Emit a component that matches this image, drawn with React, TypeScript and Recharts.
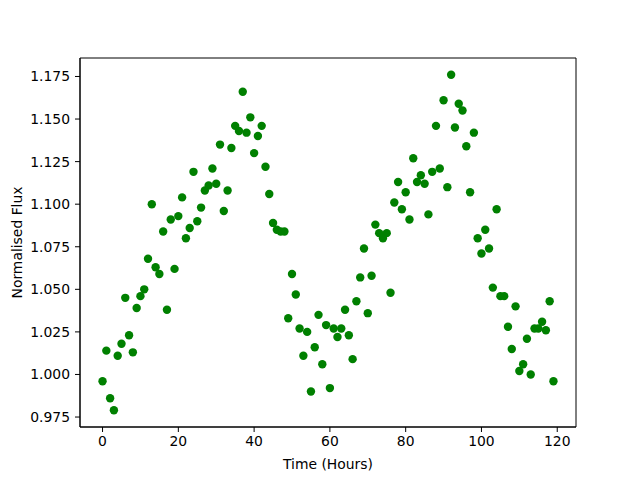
import React from "react";
import {
  ScatterChart,
  Scatter,
  XAxis,
  YAxis,
  ReferenceArea,
} from "recharts";

// time of each measurement, hours
const hours = [
  0, 1, 2, 3, 4, 5, 6, 7, 8, 9, 10, 11, 12, 13, 14, 15, 16, 17, 18, 19,
  20, 21, 22, 23, 24, 25, 26, 27, 28, 29, 30, 31, 32, 33, 34, 35, 36, 37, 38, 39,
  40, 41, 42, 43, 44, 45, 46, 47, 48, 49, 50, 51, 52, 53, 54, 55, 56, 57, 58, 59,
  60, 61, 62, 63, 64, 65, 66, 67, 68, 69, 70, 71, 72, 73, 74, 75, 76, 77, 78, 79,
  80, 81, 82, 83, 84, 85, 86, 87, 88, 89, 90, 91, 92, 93, 94, 95, 96, 97, 98, 99,
  100, 101, 102, 103, 104, 105, 106, 107, 108, 109, 110, 111, 112, 113, 114, 115, 116, 117, 118, 119,
];

// normalised flux
const flux = [
  0.996, 1.014, 0.986, 0.979, 1.011, 1.018, 1.045, 1.023, 1.013, 1.039,
  1.046, 1.05, 1.068, 1.1, 1.063, 1.059, 1.084, 1.038, 1.091, 1.062,
  1.093, 1.104, 1.08, 1.086, 1.119, 1.09, 1.098, 1.108, 1.111, 1.121,
  1.112, 1.135, 1.096, 1.108, 1.133, 1.146, 1.143, 1.166, 1.142, 1.151,
  1.13, 1.14, 1.146, 1.122, 1.106, 1.089, 1.085, 1.084, 1.084, 1.033,
  1.059, 1.047, 1.027, 1.011, 1.025, 0.99, 1.016, 1.035, 1.006, 1.029,
  0.992, 1.027, 1.022, 1.027, 1.038, 1.023, 1.009, 1.043, 1.057, 1.074,
  1.036, 1.058, 1.088, 1.083, 1.08, 1.083, 1.048, 1.101, 1.113, 1.097,
  1.107, 1.091, 1.127, 1.113, 1.117, 1.112, 1.094, 1.119, 1.146, 1.121,
  1.161, 1.11, 1.176, 1.145, 1.159, 1.155, 1.134, 1.107, 1.142, 1.08,
  1.071, 1.085, 1.074, 1.051, 1.097, 1.046, 1.046, 1.028, 1.015, 1.04,
  1.002, 1.006, 1.021, 1.0, 1.027, 1.027, 1.031, 1.026, 1.043, 0.996,
];

const xTicks = [0, 20, 40, 60, 80, 100, 120];
const yTicks = [0.975, 1.0, 1.025, 1.05, 1.075, 1.1, 1.125, 1.15, 1.175];

const points = hours.map((h, i) => ({ x: h, y: flux[i] }));

// matplotlib style 5% padding on the data range
const pad = (lo: number, hi: number): [number, number] => {
  const d = (hi - lo) * 0.05;
  return [lo - d, hi + d];
};
const xDomain = pad(Math.min(...hours), Math.max(...hours));
const yDomain = pad(Math.min(...flux), Math.max(...flux));

const font = "DejaVu Sans, sans-serif";
const tickStyle = { fill: "#000", fontSize: 13.9, fontFamily: font };

const Dot = (props: any) => (
  <circle cx={props.cx} cy={props.cy} r={4.2} fill="#008000" />
);

export default function App() {
  return (
    <div style={{ position: "absolute", left: 0, top: 0, width: 640, height: 480, background: "#fff" }}>
      <ScatterChart
        width={640}
        height={480}
        margin={{ top: 58, right: 64, bottom: 0, left: 0 }}
      >
        <XAxis
          type="number"
          dataKey="x"
          domain={xDomain}
          ticks={xTicks}
          allowDataOverflow
          height={53}
          tick={tickStyle}
          tickSize={5}
          tickMargin={4}
          stroke="#000"
          label={{
            value: "Time (Hours)",
            position: "insideBottom",
            offset: 11,
            style: { fill: "#000", fontSize: 13.9, fontFamily: font },
          }}
        />
        <YAxis
          type="number"
          dataKey="y"
          domain={yDomain}
          ticks={yTicks}
          allowDataOverflow
          width={80}
          tick={tickStyle}
          tickSize={5}
          tickMargin={5}
          tickFormatter={(v: number) => v.toFixed(3)}
          stroke="#000"
          label={{
            value: "Normalised Flux",
            angle: -90,
            position: "insideLeft",
            offset: 17,
            style: { fill: "#000", fontSize: 13.9, fontFamily: font, textAnchor: "middle" },
          }}
        />
        <ReferenceArea
          x1={xDomain[0]}
          x2={xDomain[1]}
          y1={yDomain[0]}
          y2={yDomain[1]}
          fill="none"
          stroke="#000"
          strokeWidth={1}
        />
        <Scatter data={points} shape={Dot} isAnimationActive={false} />
      </ScatterChart>
    </div>
  );
}
